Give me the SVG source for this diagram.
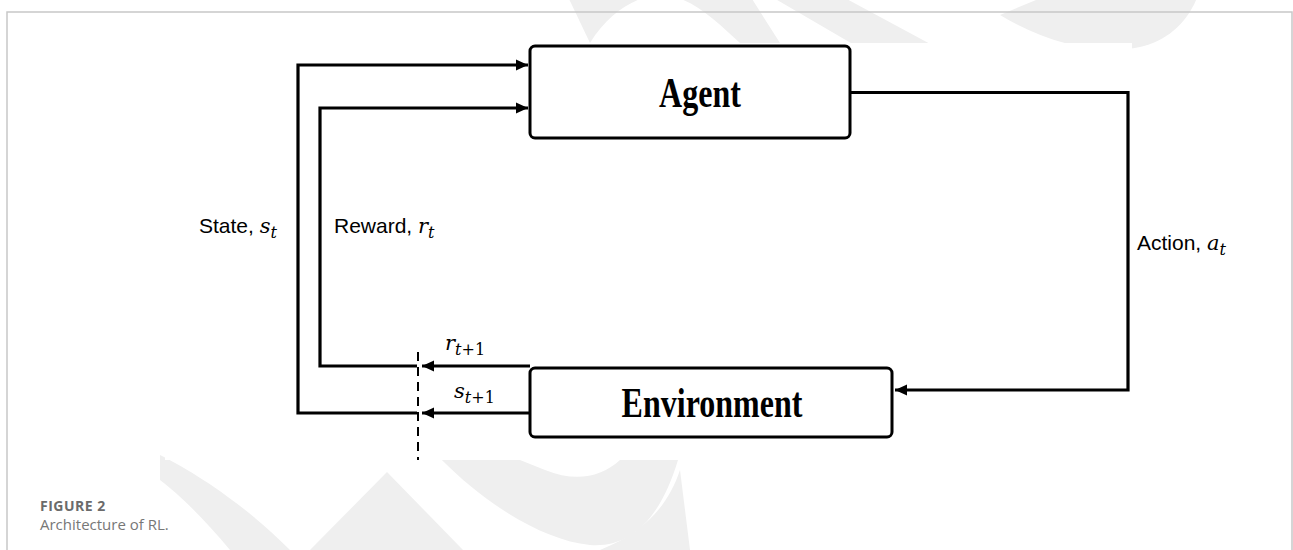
<svg xmlns="http://www.w3.org/2000/svg" width="1293" height="550" viewBox="0 0 1293 550">
<style>
.wm{fill:#efefef}
.box{fill:#fff;stroke:#000;stroke-width:3}
.ln{fill:none;stroke:#000;stroke-width:3.2}
.dash{fill:none;stroke:#000;stroke-width:2;stroke-dasharray:9 6}
.bold{font-family:"Liberation Serif",serif;font-weight:bold;font-size:32px;fill:#000}
.lab{font-family:"Liberation Sans","DejaVu Sans",sans-serif;font-size:21px;fill:#000}
.m{font-family:"DejaVu Serif","Liberation Serif",serif;font-style:italic;font-size:21px}
.sub{font-family:"DejaVu Serif","Liberation Serif",serif;font-style:italic;font-size:16px}
.subn{font-family:"DejaVu Serif","Liberation Serif",serif;font-size:16px}
.cap1{font-family:"Open Sans","Liberation Sans",sans-serif;font-weight:bold;font-size:14px;fill:#6b6b6b;letter-spacing:0.5px}
.cap2{font-family:"Open Sans","Liberation Sans",sans-serif;font-size:15px;fill:#777}
</style>
<defs>
<marker id="ah" viewBox="0 0 12 12" refX="12" refY="6" markerWidth="12" markerHeight="12" markerUnits="userSpaceOnUse" orient="auto">
<path d="M0,0.5 L12,6 L0,11.5 Z" fill="#000"/>
</marker>
<clipPath id="outside">
<path clip-rule="evenodd" d="M0,0 H1293 V550 H0 Z M165,43 H1132 V460 H165 Z"/>
</clipPath>
</defs>
<rect width="1293" height="550" fill="#fff"/>
<g id="watermark" clip-path="url(#outside)">
<path class="wm" d="M590,43 C610,10 640,-5 660,-5 C690,-5 715,20 740,43 L780,43 L740,-20 L560,-20 Z"/>
<path class="wm" d="M760,-10 L830,-10 L960,60 L880,60 Z"/>
<path class="wm" d="M1000,15 C1050,45 1100,55 1140,47 C1170,40 1190,20 1200,-10 L1060,-10 Z"/>
<path class="wm" d="M160,455 C190,470 240,500 290,550 L230,550 C205,520 180,495 160,480 Z"/>
<path class="wm" d="M387,472 L463,550 L310,550 Z"/>
<path class="wm" d="M437,455 C480,500 540,540 590,545 C630,548 660,520 678,460 L620,460 C600,478 575,482 545,470 L520,460 Z"/>
<path class="wm" d="M600,550 C650,530 670,500 680,470 L690,550 Z"/>
</g>
<g id="frame">
<path d="M7,550 V12 H1292 V550" fill="none" stroke="#c8c8c8" stroke-width="1.5"/>
</g>
<g id="connectors">
<path class="ln" d="M850,92.5 H1128 V390 H895" marker-end="url(#ah)"/>
<path class="ln" d="M417,413 H298 V65 H528" marker-end="url(#ah)"/>
<path class="ln" d="M417,366 H320 V108 H528" marker-end="url(#ah)"/>
<path class="ln" d="M530,413 H422" marker-end="url(#ah)"/>
<path class="ln" d="M530,366 H422" marker-end="url(#ah)"/>
<path class="dash" d="M418,352 V460"/>
</g>
<g id="agent">
<rect class="box" x="530" y="46" width="320" height="92" rx="5"/>
<text class="bold" x="700" y="107" text-anchor="middle" transform="translate(700 107) scale(1 1.3) translate(-700 -107)">Agent</text>
</g>
<g id="environment">
<rect class="box" x="530" y="368" width="362" height="69" rx="5"/>
<text class="bold" x="712" y="417" text-anchor="middle" transform="translate(712 417) scale(1 1.3) translate(-712 -417)">Environment</text>
</g>
<g id="labels">
<text class="lab" x="199" y="233">State, <tspan class="m">s</tspan><tspan class="sub" dy="5">t</tspan></text>
<text class="lab" x="334" y="233">Reward, <tspan class="m">r</tspan><tspan class="sub" dy="5">t</tspan></text>
<text class="lab" x="1137" y="250">Action, <tspan class="m">a</tspan><tspan class="sub" dy="5">t</tspan></text>
<text x="445" y="350"><tspan class="m">r</tspan><tspan class="sub" dy="5">t</tspan><tspan class="subn">+1</tspan></text>
<text x="454" y="398"><tspan class="m">s</tspan><tspan class="sub" dy="5">t</tspan><tspan class="subn">+1</tspan></text>
</g>
<g id="caption">
<text class="cap1" x="40" y="511">FIGURE 2</text>
<text class="cap2" x="40" y="530">Architecture of RL.</text>
</g>
</svg>
